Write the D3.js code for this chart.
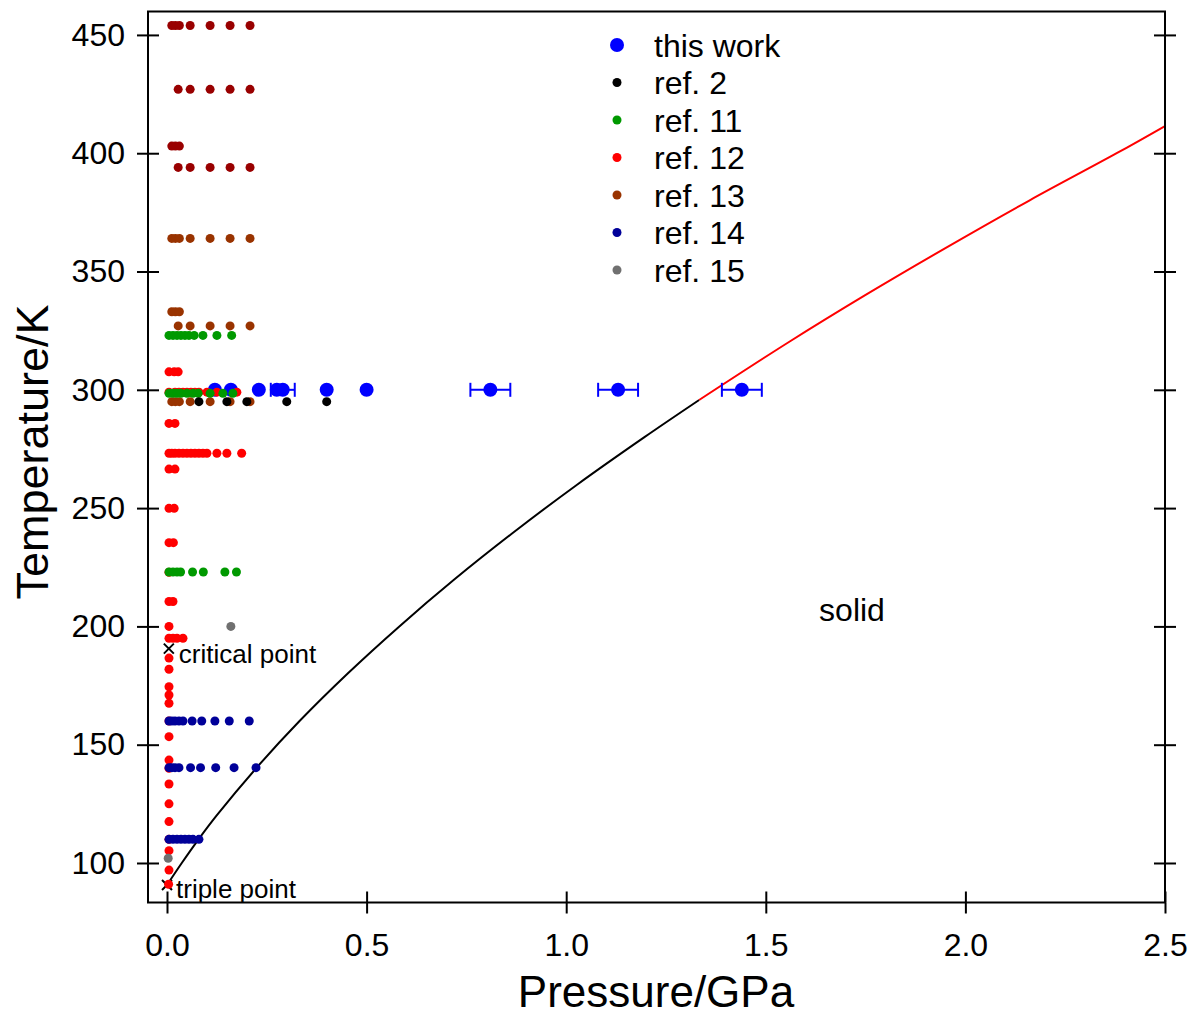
<!DOCTYPE html>
<html lang="en">
<head>
    <meta charset="UTF-8">
    <title>Methane phase diagram: data coverage</title>
    <style>
        body {
            margin: 0;
            background: #fff;
        }
        svg text {
            font-family: Arial, "Liberation Sans", sans-serif;
            fill: #000;
        }
        .axis text {
            font-size: 32px;
        }
        .axis line {
            stroke: #000;
            stroke-width: 2px;
        }
        .axis path {
            display: none;
        }
    </style>
</head>
<body>
    <div id="chart"></div>

    <script src="https://d3js.org/d3.v7.min.js"></script>
    <script>
        // ---- data ----
        const xTicks = [0, 0.5, 1.0, 1.5, 2.0, 2.5];
        const yTicks = [100, 150, 200, 250, 300, 350, 400, 450];

        // this work, all at 300 K
        const thisWorkT = 300;
        const thisWorkP = [0.12, 0.16, 0.23, 0.275, 0.29, 0.40, 0.50, 0.81, 1.13, 1.44];
        const thisWorkErr = [0, 0, 0, 0, 0.03, 0, 0, 0.05, 0.05, 0.05];

        // rows of [T, pressures]
        const ref2 = [
            [295, [0.08, 0.15, 0.20, 0.30, 0.40]]
        ];
        const ref11 = [
            [323, [0.005, 0.015, 0.025, 0.035, 0.045, 0.055, 0.068, 0.09, 0.125, 0.162]],
            [298.5, [0.005, 0.015, 0.025, 0.035, 0.05, 0.065, 0.078, 0.108, 0.14, 0.165]],
            [223, [0.005, 0.015, 0.025, 0.034, 0.064, 0.091, 0.145, 0.174]]
        ];
        const ref12 = [
            [307.6, [0.005, 0.018, 0.028]],
            [299, [0.005, 0.02, 0.03, 0.04, 0.05, 0.06, 0.07, 0.08, 0.1, 0.125, 0.175]],
            [285.8, [0.005, 0.02]],
            [273.2, [0.005, 0.012, 0.02, 0.03, 0.04, 0.05, 0.06, 0.07, 0.08, 0.09, 0.1, 0.125, 0.15, 0.187]],
            [266.5, [0.005, 0.02]],
            [249.9, [0.005, 0.018]],
            [235.4, [0.005, 0.016]],
            [222.9, [0.005]],
            [210.5, [0.005, 0.015]],
            [200, [0.005]],
            [195, [0.005, 0.015, 0.025, 0.04]],
            [186.6, [0.005]],
            [181.9, [0.005]],
            [174.5, [0.005]],
            [171, [0.005]],
            [167.5, [0.005]],
            [160, [0.005]],
            [153.4, [0.005]],
            [143.5, [0.005]],
            [140, [0.005]],
            [133.4, [0.005]],
            [125, [0.005]],
            [117.5, [0.005]],
            [110, [0.005]],
            [105.2, [0.005]],
            [97, [0.005]],
            [91, [0.004]]
        ];
        const ref13 = [
            [364, [0.012, 0.021, 0.031, 0.058, 0.108, 0.158, 0.208]],
            [333, [0.012, 0.021, 0.031]],
            [327, [0.028, 0.058, 0.108, 0.158, 0.208]],
            [295, [0.012, 0.021, 0.031, 0.058, 0.108, 0.158, 0.208]]
        ];
        // high temperature rows, darker red, not in the legend
        const ref13High = [
            [454, [0.012, 0.021, 0.031, 0.058, 0.108, 0.158, 0.208]],
            [427, [0.028, 0.058, 0.108, 0.158, 0.208]],
            [403, [0.012, 0.021, 0.031]],
            [394, [0.028, 0.058, 0.108, 0.158, 0.208]]
        ];
        const ref14 = [
            [160, [0.005, 0.012, 0.02, 0.03, 0.04, 0.063, 0.087, 0.12, 0.156, 0.206]],
            [140.3, [0.005, 0.012, 0.02, 0.03, 0.059, 0.084, 0.122, 0.168, 0.223]],
            [110, [0.005, 0.015, 0.025, 0.035, 0.045, 0.055, 0.065, 0.08]]
        ];
        const ref15 = [
            [102, [0.003]],
            [200, [0.16]]
        ];

        // melting line (T in K, P in GPa)
        const meltT = [90.7, 100, 110, 120, 140, 160, 180, 200, 220, 240, 260, 280, 295.7];
        const meltP = [0, 0.037, 0.079, 0.124, 0.223, 0.332, 0.452, 0.582, 0.721, 0.870, 1.028, 1.196, 1.333];
        const meltHighT = [295.7, 320, 340, 360, 380, 400, 411.5];
        const meltHighP = [1.333, 1.556, 1.749, 1.951, 2.160, 2.379, 2.5];

        const criticalPoint = [0.0046, 190.6];
        const triplePoint = [0, 90.7];

        // ---- layout ----
        const width = 1191, height = 1019;
        const plotLeft = 148, plotRight = 1165, plotTop = 11.5, plotBottom = 902.5;

        const x = d3.scaleLinear().domain([-0.0476, 2.5]).range([plotLeft, plotRight]);
        const y = d3.scaleLinear().domain([83.3, 459.9]).range([plotBottom, plotTop]);

        const svg = d3.select("#chart").append("svg")
            .attr("width", width)
            .attr("height", height);

        // flatten rows into points
        const flat = rows => rows.flatMap(([t, ps]) => ps.map(p => [p, t]));

        function dots(rows, color, r) {
            svg.append("g")
                .selectAll("circle")
                .data(flat(rows))
                .enter().append("circle")
                .attr("cx", d => x(d[0]))
                .attr("cy", d => y(d[1]))
                .attr("r", r)
                .attr("fill", color);
        }

        // melting curve
        const line = d3.line()
            .x(d => x(d[0]))
            .y(d => y(d[1]))
            .curve(d3.curveCatmullRom);

        svg.append("path")
            .datum(meltP.map((p, i) => [p, meltT[i]]))
            .attr("d", line)
            .attr("fill", "none")
            .attr("stroke", "#000")
            .attr("stroke-width", 2);

        svg.append("path")
            .datum(meltHighP.map((p, i) => [p, meltHighT[i]]))
            .attr("d", line)
            .attr("fill", "none")
            .attr("stroke", "#ff0000")
            .attr("stroke-width", 2);

        // crosses for critical and triple point
        [criticalPoint, triplePoint].forEach(pt => {
            const cx = x(pt[0]), cy = y(pt[1]), s = 5;
            svg.append("path")
                .attr("d", `M${cx - s},${cy - s}L${cx + s},${cy + s}M${cx - s},${cy + s}L${cx + s},${cy - s}`)
                .attr("stroke", "#000")
                .attr("stroke-width", 2);
        });

        // this work with error bars
        const tw = svg.append("g");
        thisWorkP.forEach((p, i) => {
            const e = thisWorkErr[i];
            if (e > 0) {
                const cy = y(thisWorkT);
                tw.append("line")
                    .attr("x1", x(p - e)).attr("x2", x(p + e))
                    .attr("y1", cy).attr("y2", cy)
                    .attr("stroke", "#0000ff").attr("stroke-width", 2);
                [p - e, p + e].forEach(v => {
                    tw.append("line")
                        .attr("x1", x(v)).attr("x2", x(v))
                        .attr("y1", cy - 7).attr("y2", cy + 7)
                        .attr("stroke", "#0000ff").attr("stroke-width", 2);
                });
            }
        });
        dots([[thisWorkT, thisWorkP]], "#0000ff", 7);

        dots(ref13High, "#990000", 4.5);
        dots(ref13, "#993300", 4.5);
        dots(ref12, "#ff0000", 4.5);
        dots(ref11, "#009900", 4.5);
        dots(ref2, "#000000", 4.5);
        dots(ref14, "#000099", 4.5);
        dots(ref15, "#707070", 4.5);

        // frame
        svg.append("path")
            .attr("d", `M${plotLeft},${plotTop}H${plotRight}V${plotBottom}H${plotLeft}Z`)
            .attr("fill", "none")
            .attr("stroke", "#000")
            .attr("stroke-width", 2);

        // axes: ticks cross the frame line
        svg.append("g").attr("class", "axis")
            .attr("transform", `translate(0,${plotBottom})`)
            .call(d3.axisBottom(x).tickValues(xTicks).tickFormat(d3.format(".1f"))
                .tickSize(11).tickSizeOuter(0).tickPadding(19.5));
        svg.append("g").attr("class", "axis")
            .attr("transform", `translate(0,${plotBottom})`)
            .call(d3.axisTop(x).tickValues(xTicks).tickFormat("").tickSize(11).tickSizeOuter(0));

        svg.append("g").attr("class", "axis")
            .attr("transform", `translate(${plotLeft},0)`)
            .call(d3.axisLeft(y).tickValues(yTicks).tickSize(11).tickSizeOuter(0).tickPadding(12));
        svg.append("g").attr("class", "axis")
            .attr("transform", `translate(${plotLeft},0)`)
            .call(d3.axisRight(y).tickValues(yTicks).tickFormat("").tickSize(11).tickSizeOuter(0));

        svg.append("g").attr("class", "axis")
            .attr("transform", `translate(${plotRight},0)`)
            .call(d3.axisLeft(y).tickValues(yTicks).tickFormat("").tickSize(11).tickSizeOuter(0));
        svg.append("g").attr("class", "axis")
            .attr("transform", `translate(${plotRight},0)`)
            .call(d3.axisRight(y).tickValues(yTicks).tickFormat("").tickSize(11).tickSizeOuter(0));

        // axis titles
        svg.append("text")
            .attr("x", 656)
            .attr("y", 1007)
            .attr("text-anchor", "middle")
            .style("font-size", "44px")
            .text("Pressure/GPa");

        svg.append("text")
            .attr("transform", `translate(48,452) rotate(-90)`)
            .attr("text-anchor", "middle")
            .style("font-size", "45px")
            .text("Temperature/K");

        // annotations
        svg.append("text")
            .attr("x", x(criticalPoint[0]) + 10)
            .attr("y", y(criticalPoint[1]) + 14)
            .style("font-size", "26px")
            .text("critical point");

        svg.append("text")
            .attr("x", x(triplePoint[0]) + 9)
            .attr("y", y(triplePoint[1]) + 13)
            .style("font-size", "26px")
            .text("triple point");

        svg.append("text")
            .attr("x", 852)
            .attr("y", 621)
            .attr("text-anchor", "middle")
            .style("font-size", "32px")
            .text("solid");

        // legend
        const legendItems = [
            { label: "this work", color: "#0000ff", r: 7 },
            { label: "ref. 2", color: "#000000", r: 4.5 },
            { label: "ref. 11", color: "#009900", r: 4.5 },
            { label: "ref. 12", color: "#ff0000", r: 4.5 },
            { label: "ref. 13", color: "#993300", r: 4.5 },
            { label: "ref. 14", color: "#000099", r: 4.5 },
            { label: "ref. 15", color: "#707070", r: 4.5 }
        ];
        const legend = svg.append("g")
            .selectAll("g")
            .data(legendItems)
            .enter().append("g")
            .attr("transform", (d, i) => `translate(617,${45 + i * 37.5})`);

        legend.append("circle")
            .attr("r", d => d.r)
            .attr("fill", d => d.color);

        legend.append("text")
            .attr("x", 37)
            .attr("dy", "0.36em")
            .style("font-size", "32px")
            .text(d => d.label);
    </script>
</body>
</html>
